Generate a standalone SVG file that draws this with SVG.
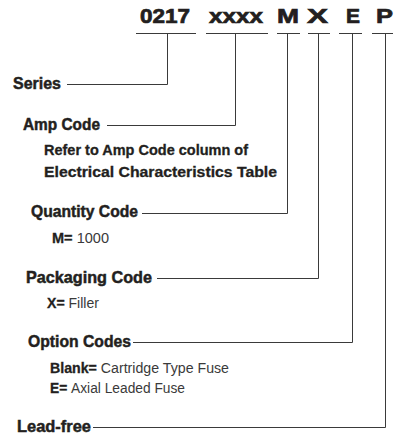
<svg xmlns="http://www.w3.org/2000/svg" width="396" height="439" viewBox="0 0 396 439">
<style>
text{font-family:"Liberation Sans Narrow","Liberation Sans",Arial,sans-serif;fill:#231f20}
.code{font-size:20.5px;font-weight:bold;stroke:#231f20;stroke-width:0.7}
.h{font-size:17px;font-weight:bold;stroke:#231f20;stroke-width:0.5}
.s{font-size:14px;font-weight:bold;stroke:#231f20;stroke-width:0.3}
.r{font-weight:normal;fill:#3a3a3a;stroke:none}
.ln{fill:none;stroke:#3a3a3a;stroke-width:1}
</style>
<rect width="396" height="439" fill="#fff"/>
<g id="code">
<text class="code" x="140" y="22.5" textLength="50" lengthAdjust="spacingAndGlyphs">0217</text>
<text class="code" x="209" y="22.5" textLength="54" lengthAdjust="spacingAndGlyphs">xxxx</text>
<text class="code" x="277" y="22.5" textLength="22" lengthAdjust="spacingAndGlyphs">M</text>
<text class="code" x="307" y="22.5" textLength="21" lengthAdjust="spacingAndGlyphs">X</text>
<text class="code" x="346" y="22.5" textLength="14" lengthAdjust="spacingAndGlyphs">E</text>
<text class="code" x="376" y="22.5" textLength="17" lengthAdjust="spacingAndGlyphs">P</text>
</g>
<g id="connectors" class="ln">
<path d="M136 33.5H196M206 33.5H268M277 33.5H300M308 33.5H330M339 33.5H362M372 33.5H393"/>
<path d="M167.5 33.5V84.5H67"/>
<path d="M235.5 33.5V125.5H107"/>
<path d="M287.5 33.5V213.5H142"/>
<path d="M318.5 33.5V278.5H157"/>
<path d="M352.5 33.5V342.5H133"/>
<path d="M385.5 33.5V427.5H93"/>
</g>
<g id="series"><text class="h" x="13" y="88.5" textLength="48" lengthAdjust="spacingAndGlyphs">Series</text></g>
<g id="amp">
<text class="h" x="23" y="130" textLength="77" lengthAdjust="spacingAndGlyphs">Amp Code</text>
<text class="s" x="44" y="155" textLength="204" lengthAdjust="spacingAndGlyphs">Refer to Amp Code column of</text>
<text class="s" x="44" y="177" textLength="233" lengthAdjust="spacingAndGlyphs">Electrical Characteristics Table</text>
</g>
<g id="quantity">
<text class="h" x="31" y="217" textLength="107" lengthAdjust="spacingAndGlyphs">Quantity Code</text>
<text class="s" x="52" y="243" textLength="57" lengthAdjust="spacingAndGlyphs">M= <tspan class="r">1000</tspan></text>
</g>
<g id="packaging">
<text class="h" x="26" y="283" textLength="126" lengthAdjust="spacingAndGlyphs">Packaging Code</text>
<text class="s" x="47" y="308" textLength="52" lengthAdjust="spacingAndGlyphs">X= <tspan class="r">Filler</tspan></text>
</g>
<g id="option">
<text class="h" x="28" y="347" textLength="103" lengthAdjust="spacingAndGlyphs">Option Codes</text>
<text class="s" x="50" y="373" textLength="179" lengthAdjust="spacingAndGlyphs">Blank= <tspan class="r">Cartridge Type Fuse</tspan></text>
<text class="s" x="50" y="393" textLength="135" lengthAdjust="spacingAndGlyphs">E= <tspan class="r">Axial Leaded Fuse</tspan></text>
</g>
<g id="leadfree"><text class="h" x="17" y="432" textLength="74" lengthAdjust="spacingAndGlyphs">Lead-free</text></g>
</svg>
